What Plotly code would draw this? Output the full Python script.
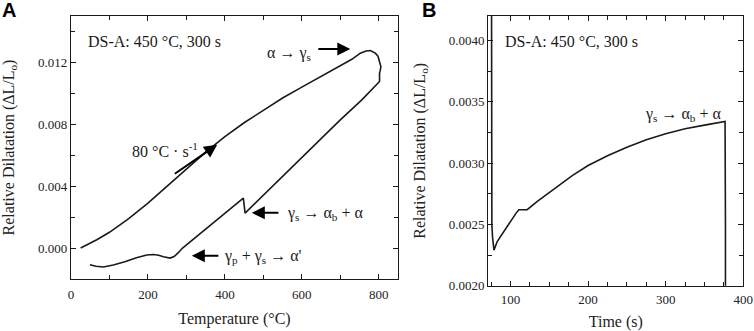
import plotly.graph_objects as go

# ---------------- Data ----------------
# Panel A: dilatation vs temperature (heating, then cooling loop)
temp_A = [25, 67, 100, 150, 200, 250, 300, 350, 400, 450, 500, 550, 600, 650, 700,
          730, 752, 767, 778, 791, 798, 802, 805.5, 804, 802, 802,
          756, 700, 600, 500, 452.5, 448, 400, 348.5, 300, 290, 279, 268, 257.5,
          248, 240, 228, 214, 197, 170, 140, 110, 84, 65, 49]
dil_A = [0.0, 0.00054, 0.00102, 0.0019, 0.0029, 0.0040, 0.0051, 0.0062, 0.0072,
         0.0081, 0.0089, 0.0097, 0.0104, 0.0111, 0.0118,
         0.0122, 0.0126, 0.01274, 0.01277, 0.0126, 0.0124, 0.01206, 0.01174,
         0.0115, 0.0113, 0.01077,
         0.00958, 0.00829, 0.00586, 0.00343, 0.00226, 0.00323, 0.00224, 0.00118,
         0.00017, 0.0, -0.0003, -0.00055, -0.00065,
         -0.00062, -0.00056, -0.00046, -0.00042, -0.00045, -0.00062, -0.00088,
         -0.00110, -0.00122, -0.00118, -0.00108]

# Panel B: dilatation vs time during isothermal hold
time_B = [75.5, 75.5, 76.0, 76.8, 77.6, 78.7, 82.9, 95, 107, 110.7, 121.5, 135, 150,
          165, 180, 200, 225, 250, 275, 300, 325, 350, 376.5, 377, 377]
dil_B = [0.0046, 0.0030, 0.0025, 0.0024, 0.00235, 0.00229, 0.00236, 0.00248, 0.00259,
         0.00262, 0.00262, 0.00269, 0.00276, 0.00283, 0.00290, 0.00298, 0.00306,
         0.00313, 0.00319, 0.00324, 0.00328, 0.00331, 0.00334, 0.0025, 0.0018]

xticks_A = [0, 200, 400, 600, 800]
yticks_A = [0.000, 0.004, 0.008, 0.012]
xticks_B = [100, 200, 300, 400]
yticks_B = [0.0020, 0.0025, 0.0030, 0.0035, 0.0040]

SERIF = "Liberation Serif"
INK = "#1a1a1a"

fig = go.Figure()
fig.add_trace(go.Scatter(x=temp_A, y=dil_A, mode="lines",
                         line=dict(color=INK, width=1.6), xaxis="x", yaxis="y",
                         showlegend=False))
fig.add_trace(go.Scatter(x=time_B, y=dil_B, mode="lines",
                         line=dict(color=INK, width=1.6), xaxis="x2", yaxis="y2",
                         showlegend=False))


def axis(**kw):
    d = dict(showline=True, linecolor=INK, linewidth=1.3, mirror="ticks",
             ticks="inside", ticklen=5, tickwidth=1.2, tickcolor=INK,
             showgrid=False, zeroline=False, automargin=False,
             tickfont=dict(family=SERIF, size=13, color="#222"),
             title_font=dict(family=SERIF, size=16, color="#222"))
    d.update(kw)
    return d


def minor(dt, t0):
    return dict(dtick=dt, tick0=t0, ticks="inside", ticklen=4, tickwidth=1.2,
                tickcolor=INK)


W, H = 754, 331
fig.update_layout(
    width=W, height=H,
    margin=dict(l=0, r=0, t=0, b=0),
    paper_bgcolor="white", plot_bgcolor="white",
    font=dict(family=SERIF, size=13, color="#222"),
    xaxis=axis(domain=[71 / W, 398 / W], range=[0, 850], tickvals=xticks_A,
               minor=minor(100, 0), ticklabelstandoff=3,
               title=dict(text="Temperature (°C)", standoff=12), anchor="y"),
    yaxis=axis(domain=[1 - 279 / H, 1 - 16 / H], range=[-0.002, 0.015],
               tickvals=yticks_A, tickformat=".3f", minor=minor(0.002, 0),
               title=dict(text="Relative Dilatation (ΔL/L<sub>o</sub>)", standoff=19),
               anchor="x"),
    xaxis2=axis(domain=[488.3 / W, 743.3 / W], range=[71.4, 400], tickvals=xticks_B,
                minor=minor(25, 0), ticklabelstandoff=2,
                title=dict(text="Time (s)", standoff=10), anchor="y2"),
    yaxis2=axis(domain=[1 - 285.7 / H, 1 - 16 / H], range=[0.002, 0.0042],
                tickvals=yticks_B, tickformat=".4f", minor=minor(0.00025, 0.002),
                title=dict(text="Relative Dilatation (ΔL/L<sub>o</sub>)", standoff=19),
                anchor="x2"),
)

txt = dict(family=SERIF, size=16, color="#1a1a1a")
ann = []
# Panel labels
for lab, px in [("A", 0.0), ("B", 420 / W)]:
    ann.append(dict(text="<b>%s</b>" % lab, x=px, y=1.0, xref="paper", yref="paper",
                    xanchor="left", yanchor="top", showarrow=False,
                    font=dict(family="Liberation Sans", size=20, color="black"),
                    xshift=0, yshift=3))
# Panel A texts
for t, x, y in [("DS-A: 450 °C, 300 s", 39, 0.01334),
                ("α → γ<sub>s</sub>", 504, 0.01255),
                ("80 °C · s<sup>-1</sup>", 153, 0.00635),
                ("γ<sub>s</sub> → α<sub>b</sub> + α", 556, 0.00222),
                ("γ<sub>p</sub> + γ<sub>s</sub> → α'", 393, -0.00052)]:
    ann.append(dict(text=t, x=x, y=y, xref="x", yref="y", xanchor="left",
                    yanchor="middle", showarrow=False, font=txt))
# Panel A arrows
for x0, y0, x1, y1 in [(639, 0.01286, 726, 0.01286),
                       (266, 0.00474, 380, 0.00668),
                       (543, 0.00228, 470, 0.00228),
                       (387, -0.0005, 314, -0.0005)]:
    ann.append(dict(text="", x=x1, y=y1, ax=x0, ay=y0, xref="x", yref="y",
                    axref="x", ayref="y", showarrow=True, arrowhead=2,
                    arrowsize=1.3, arrowwidth=2, arrowcolor="black"))
# Panel B texts
for t, x, y in [("DS-A: 450 °C, 300 s", 90.3, 0.003995),
                ("γ<sub>s</sub> → α<sub>b</sub> + α", 270.7, 0.00340)]:
    ann.append(dict(text=t, x=x, y=y, xref="x2", yref="y2", xanchor="left",
                    yanchor="middle", showarrow=False, font=txt))

fig.update_layout(annotations=ann)
fig.write_html("out.html",
               config={"displayModeBar": False},
               post_script="document.body.style.margin='0';"
                           "document.body.style.overflow='hidden';")
